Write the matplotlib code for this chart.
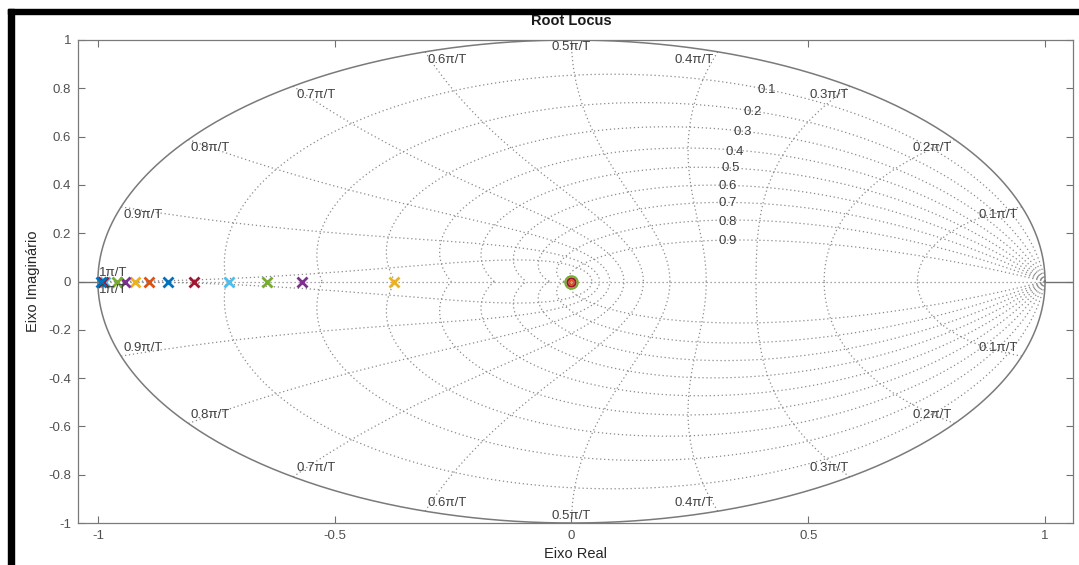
import numpy as np
import matplotlib
matplotlib.use('Agg')
import matplotlib.pyplot as plt
from matplotlib.patches import Rectangle

plt.rcParams['font.family'] = ['Liberation Sans', 'DejaVu Sans']

# MATLAB default colour order
blue = '#0072BD'
orange = '#D95319'
yellow = '#EDB120'
purple = '#7E2F8E'
green = '#77AC30'
lightblue = '#4DBEEE'
darkred = '#A2142F'

# open-loop poles on the real axis, one per system
pole_re = [-0.374, -0.570, -0.642, -0.724, -0.798, -0.853, -0.893, -0.921, -0.942, -0.959,
           -0.985, -0.990, -0.994]
pole_colors = [yellow, purple, green, lightblue, darkred, blue, orange, yellow, purple, green,
               lightblue, darkred, blue]

# zeros, all at the origin
zero_re = [0.0, 0.0, 0.0]
zero_colors = [orange, darkred, green]
zero_sizes = [3, 6, 9]

# zgrid values
zetas = [0.1, 0.2, 0.3, 0.4, 0.5, 0.6, 0.7, 0.8, 0.9]
wn_factors = [0.1, 0.2, 0.3, 0.4, 0.5, 0.6, 0.7, 0.8, 0.9, 1.0]
wn_labels = ['0.1π/T', '0.2π/T', '0.3π/T', '0.4π/T', '0.5π/T',
             '0.6π/T', '0.7π/T', '0.8π/T', '0.9π/T', '1π/T']

# where the grid labels sit
zeta_label_pos = [(0.412, 0.791), (0.382, 0.702), (0.361, 0.621), (0.344, 0.538), (0.336, 0.468),
                  (0.330, 0.394), (0.330, 0.327), (0.330, 0.248), (0.330, 0.166)]
wn_label_pos = [(0.902, 0.277), (0.762, 0.551), (0.543, 0.774), (0.260, 0.919), (0.0, 0.969),
                (-0.262, 0.919), (-0.539, 0.774), (-0.762, 0.551), (-0.904, 0.277), (-0.967, 0.035)]

grid_color = '#8a8a8a'
grid_ls = (0, (1, 2.2))
text_color = '#404040'

fig = plt.figure(figsize=(10.79, 5.65), dpi=100)
ax = fig.add_axes([78 / 1079, 1 - 523 / 565, (1073 - 78) / 1079, (523 - 40) / 565])

# constant damping spirals
theta = np.linspace(0, np.pi, 400)
for zeta in zetas:
    m = zeta / np.sqrt(1 - zeta ** 2)
    z = np.exp(theta * (-m + 1j))
    ax.plot(z.real, z.imag, color=grid_color, ls=grid_ls, lw=0.9)
    ax.plot(z.real, -z.imag, color=grid_color, ls=grid_ls, lw=0.9)

# constant natural frequency curves
zz = np.linspace(0, 1, 300)
for f in wn_factors:
    wn = f * np.pi
    z = np.exp(wn * (-zz + 1j * np.sqrt(1 - zz ** 2)))
    ax.plot(z.real, z.imag, color=grid_color, ls=grid_ls, lw=0.9)
    ax.plot(z.real, -z.imag, color=grid_color, ls=grid_ls, lw=0.9)

# real axis inside and outside the unit circle
ax.plot([-1, 1], [0, 0], color=grid_color, ls=grid_ls, lw=0.9)
ax.plot([-1.05, -1], [0, 0], color='#707070', lw=1)
ax.plot([1, 1.07], [0, 0], color='#707070', lw=1)

# unit circle
t = np.linspace(0, 2 * np.pi, 600)
ax.plot(np.cos(t), np.sin(t), color='#7a7a7a', lw=1.1)

# grid labels
for zeta, (x, y) in zip(zetas, zeta_label_pos):
    ax.text(x, y, f'{zeta:g}', fontsize=9.5, color=text_color, ha='center', va='center')
for lab, (x, y) in zip(wn_labels, wn_label_pos):
    ax.text(x, y, lab, fontsize=9.5, color=text_color, ha='center', va='center')
    ax.text(x, -y, lab, fontsize=9.5, color=text_color, ha='center', va='center')

# poles and zeros
for p, c in zip(pole_re, pole_colors):
    ax.plot(p, 0, marker='x', color=c, ms=7, mew=2, ls='none')
for zr, c, s in zip(zero_re, zero_colors, zero_sizes):
    ax.plot(zr, 0, marker='o', mfc='none', mec=c, ms=s, mew=1.5, ls='none')

ax.set_xlim(-1.042, 1.059)
ax.set_ylim(-1, 1)
ax.set_xticks([-1, -0.5, 0, 0.5, 1])
ax.set_xticklabels(['-1', '-0.5', '0', '0.5', '1'])
ax.set_yticks(np.round(np.arange(-1, 1.01, 0.2), 1))
ax.set_yticklabels(['-1', '-0.8', '-0.6', '-0.4', '-0.2', '0', '0.2', '0.4', '0.6', '0.8', '1'])
ax.tick_params(direction='in', top=True, right=True, length=5, width=0.8,
               colors='#707070', labelcolor='#505050', labelsize=9.5, pad=5)
for s in ax.spines.values():
    s.set_color('#7a7a7a')
    s.set_linewidth(0.9)

ax.set_xlabel('Eixo Real', fontsize=10.5, color='#262626', labelpad=4)
ax.set_ylabel('Eixo Imaginário', fontsize=10.5, color='#262626', labelpad=6)
fig.text(571 / 1079, 1 - 21 / 565, 'Root Locus', fontsize=10.5, fontweight='bold',
         color='#1a1a1a', ha='center', va='center')

# black frame along top and left edges
fig.patches.append(Rectangle((8 / 1079, 1 - 14 / 565), 1, 5 / 565, transform=fig.transFigure,
                             color='black', zorder=10))
fig.patches.append(Rectangle((8 / 1079, 0), 6 / 1079, 1 - 9 / 565, transform=fig.transFigure,
                             color='black', zorder=10))

fig.savefig('out.png', dpi=100)
